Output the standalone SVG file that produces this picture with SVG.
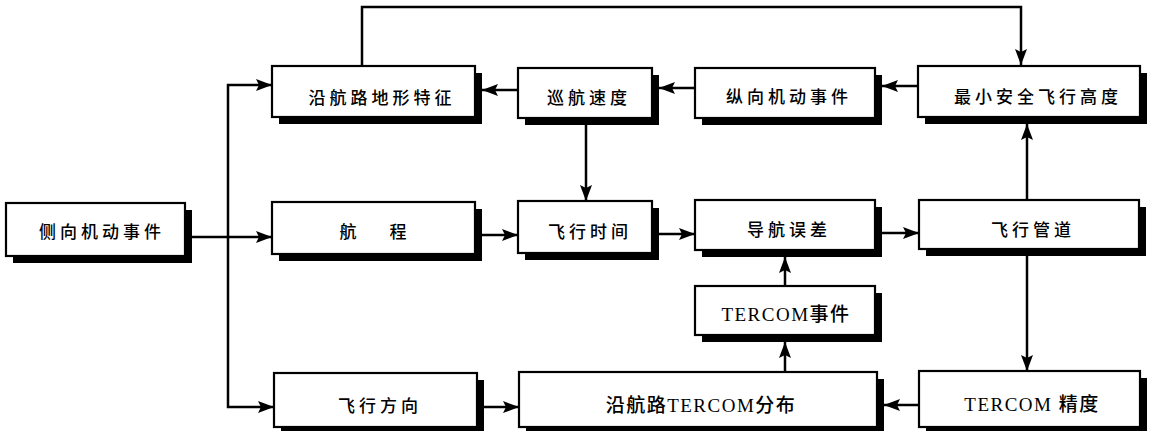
<svg xmlns="http://www.w3.org/2000/svg" width="1157" height="431" viewBox="0 0 1157 431">
<style>
.sh{fill:#000}
.bx{fill:#fff;stroke:#000;stroke-width:2.2}
.t{font-family:"Noto Sans CJK SC","Noto Sans",sans-serif;font-size:17px;font-weight:500;letter-spacing:4px;text-anchor:middle;fill:#000}
.m{font-family:"Liberation Serif","Noto Sans CJK SC",serif;font-size:19px;font-weight:500;letter-spacing:1.5px;text-anchor:middle;fill:#000}
.c{fill:none;stroke:#000;stroke-width:2.5}
</style>
<defs>
<marker id="a" markerUnits="userSpaceOnUse" markerWidth="17" markerHeight="13" refX="16" refY="6" orient="auto">
<path d="M0,0 L16,6 L0,12 L3,6 z" fill="#000"/>
</marker>
</defs>
<rect width="1157" height="431" fill="#fff"/>
<g id="connectors">
<path class="c" d="M362,66 V7 H1021 V65" marker-end="url(#a)"/>
<path class="c" d="M518,90 H482" marker-end="url(#a)"/>
<path class="c" d="M695,88 H659" marker-end="url(#a)"/>
<path class="c" d="M918,86 H882" marker-end="url(#a)"/>
<path class="c" d="M586,125 V201" marker-end="url(#a)"/>
<path class="c" d="M1027,200 V124" marker-end="url(#a)"/>
<path class="c" d="M192,237 H272" marker-end="url(#a)"/>
<path class="c" d="M228,237 V85 H272" marker-end="url(#a)"/>
<path class="c" d="M228,237 V407 H274" marker-end="url(#a)"/>
<path class="c" d="M482,235 H518" marker-end="url(#a)"/>
<path class="c" d="M659,234 H695" marker-end="url(#a)"/>
<path class="c" d="M882,233 H919" marker-end="url(#a)"/>
<path class="c" d="M785,286 V257" marker-end="url(#a)"/>
<path class="c" d="M785,372 V342" marker-end="url(#a)"/>
<path class="c" d="M1027,256 V371" marker-end="url(#a)"/>
<path class="c" d="M919,405 H884" marker-end="url(#a)"/>
<path class="c" d="M484,407 H519" marker-end="url(#a)"/>
</g>
<g id="n1"><rect class="sh" x="279" y="73" width="203" height="51"/><rect class="bx" x="272" y="66" width="203" height="51"/><text class="t" x="382" y="104">沿航路地形特征</text></g>
<g id="n2"><rect class="sh" x="525" y="75" width="134" height="50"/><rect class="bx" x="518" y="68" width="134" height="50"/><text class="t" x="589" y="104">巡航速度</text></g>
<g id="n3"><rect class="sh" x="702" y="75" width="180" height="50"/><rect class="bx" x="695" y="68" width="180" height="50"/><text class="t" x="789" y="103">纵向机动事件</text></g>
<g id="n4"><rect class="sh" x="925" y="73" width="222" height="51"/><rect class="bx" x="918" y="66" width="222" height="51"/><text class="t" x="1038" y="103">最小安全飞行高度</text></g>
<g id="n5"><rect class="sh" x="13" y="210" width="179" height="53"/><rect class="bx" x="6" y="203" width="179" height="53"/><text class="t" x="102" y="238">侧向机动事件</text></g>
<g id="n6"><rect class="sh" x="279" y="209" width="203" height="52"/><rect class="bx" x="272" y="202" width="203" height="52"/><text class="t" y="238"><tspan x="350">航</tspan><tspan x="400">程</tspan></text></g>
<g id="n7"><rect class="sh" x="525" y="208" width="134" height="52"/><rect class="bx" x="518" y="201" width="134" height="52"/><text class="t" x="590" y="238">飞行时间</text></g>
<g id="n8"><rect class="sh" x="702" y="207" width="180" height="50"/><rect class="bx" x="695" y="200" width="180" height="50"/><text class="t" x="789" y="236">导航误差</text></g>
<g id="n9"><rect class="sh" x="926" y="207" width="220" height="49"/><rect class="bx" x="919" y="200" width="220" height="49"/><text class="t" x="1033" y="236">飞行管道</text></g>
<g id="n10"><rect class="sh" x="702" y="293" width="180" height="49"/><rect class="bx" x="695" y="286" width="180" height="49"/><text class="m" x="786" y="321">TERCOM事件</text></g>
<g id="n11"><rect class="sh" x="281" y="380" width="203" height="54"/><rect class="bx" x="274" y="373" width="203" height="54"/><text class="t" x="380" y="412">飞行方向</text></g>
<g id="n12"><rect class="sh" x="526" y="379" width="358" height="55"/><rect class="bx" x="519" y="372" width="358" height="55"/><text class="m" x="701" y="412">沿航路TERCOM分布</text></g>
<g id="n13"><rect class="sh" x="926" y="378" width="221" height="56"/><rect class="bx" x="919" y="371" width="221" height="56"/><text class="m" x="1032" y="411">TERCOM 精度</text></g>
</svg>
